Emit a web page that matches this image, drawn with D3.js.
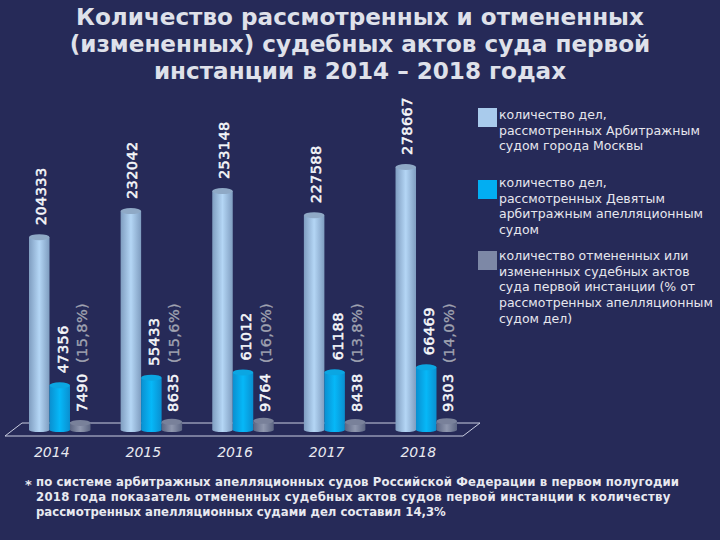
<!DOCTYPE html>
<html>
<head>
<meta charset="utf-8">
<script src="https://cdn.jsdelivr.net/npm/d3@7"></script>
<style>
html, body { margin: 0; padding: 0; background: #262a58; }
svg { display: block; font-family: "DejaVu Sans", sans-serif; }
</style>
</head>
<body>
<script>
var years = ['2014', '2015', '2016', '2017', '2018'],
    moscowCases = [204333, 232042, 253148, 227588, 278667],
    appealCases = [47356, 55433, 61012, 61188, 66469],
    changedActs = [7490, 8635, 9764, 8438, 9303],
    changedShare = ['(15,8%)', '(15,6%)', '(16,0%)', '(13,8%)', '(14,0%)'],
    titleLines = [
        'Количество рассмотренных и отмененных',
        '(измененных) судебных актов суда первой',
        'инстанции в 2014 – 2018 годах'
    ],
    legendLines = [
        ['количество дел,', 'рассмотренных Арбитражным', 'судом города Москвы'],
        ['количество дел,', 'рассмотренных Девятым', 'арбитражным апелляционным', 'судом'],
        ['количество отмененных или', 'измененных судебных актов', 'суда первой инстанции (% от', 'рассмотренных апелляционным', 'судом дел)']
    ],
    noteLines = [
        'по системе арбитражных апелляционных судов Российской Федерации в первом полугодии',
        '2018 года показатель отмененных судебных актов судов первой инстанции к количеству',
        'рассмотренных апелляционных судами дел составил 14,3%'
    ];

(function () {
    var width = 720,
        height = 540,
        base = 430,
        series = [
            { name: 'moscow', values: moscowCases, dark: '#7f9dc0', light: '#b4d6f5', top: '#8fa9c6', swatch: '#a9cbec', nudge: 1.5 },
            { name: 'appeal', values: appealCases, dark: '#0a8fd0', light: '#06b8f8', top: '#0ba6e2', swatch: '#02aef2', nudge: 3 },
            { name: 'changed', values: changedActs, dark: '#5c6582', light: '#8f97ae', top: '#79819a', swatch: '#7d88a6', nudge: 1.5 }
        ],
        svg, defs, x, inner, y, groups;

    svg = d3.select('body').append('svg').attr('width', width).attr('height', height);
    defs = svg.append('defs');

    series.forEach(function (s) {
        var grad = defs.append('linearGradient').attr('id', 'grad-' + s.name);
        grad.append('stop').attr('offset', '0%').attr('stop-color', s.dark);
        grad.append('stop').attr('offset', '50%').attr('stop-color', s.light);
        grad.append('stop').attr('offset', '100%').attr('stop-color', s.dark);
    });

    x = d3.scaleBand().domain(years).range([29, 457]).paddingInner(0.329).paddingOuter(0);
    inner = d3.scaleBand().domain(d3.range(series.length)).range([0, x.bandwidth()]);
    y = d3.scaleLinear().domain([0, 278667]).range([base, 167]);

    // title
    svg.append('g').selectAll('text').data(titleLines).enter().append('text')
        .attr('x', 360)
        .attr('y', function (d, i) { return 25 + i * 27; })
        .attr('text-anchor', 'middle')
        .attr('font-size', 23.1)
        .attr('font-weight', 'bold')
        .attr('fill', '#dfe1ea')
        .text(function (d) { return d; });

    // floor
    svg.append('path')
        .attr('d', d3.line()([[22, 423], [480, 423], [463, 436], [5, 436]]) + 'Z')
        .attr('fill', 'none')
        .attr('stroke', '#c9cde0')
        .attr('stroke-width', 1);

    groups = svg.append('g').selectAll('g').data(series).enter().append('g');

    // cylinders
    groups.each(function (s, si) {
        var g = d3.select(this),
            w = inner.bandwidth(),
            ry = 3,
            cx = function (d, i) { return x(years[i]) + inner(si) + w / 2; };

        g.selectAll('path').data(s.values).enter().append('path')
            .attr('d', function (d, i) {
                var l = cx(d, i) - w / 2, r = l + w, t = y(d);
                return 'M' + l + ',' + t + 'L' + l + ',' + base
                    + 'A' + (w / 2) + ',' + 2 + ' 0 0 0 ' + r + ',' + base
                    + 'L' + r + ',' + t + 'Z';
            })
            .attr('fill', 'url(#grad-' + s.name + ')');

        g.selectAll('ellipse').data(s.values).enter().append('ellipse')
            .attr('cx', cx)
            .attr('cy', function (d) { return y(d); })
            .attr('rx', w / 2)
            .attr('ry', ry)
            .attr('fill', s.top);
    });

    // value labels, rotated. The small bars' labels all start on one line
    groups.each(function (s, si) {
        d3.select(this).selectAll('text').data(s.values).enter().append('text')
            .attr('transform', function (d, i) {
                var px = x(years[i]) + inner(si) + inner.bandwidth() / 2 + s.nudge,
                    py = si === 2 ? y(0) - 18 : y(d) - 12;
                return 'translate(' + px + ',' + py + ') rotate(-90)';
            })
            .attr('dy', '.35em')
            .attr('font-size', 14.5)
            .attr('letter-spacing', 0.4)
            .attr('fill', '#f6f7fa')
            .attr('stroke', '#f6f7fa')
            .attr('stroke-width', 0.5)
            .text(function (d) { return d; });
    });

    // share in brackets, above the last bar's number
    svg.append('g').selectAll('text').data(changedShare).enter().append('text')
        .attr('transform', function (d, i) {
            var px = x(years[i]) + inner(2) + inner.bandwidth() / 2 + 2;
            return 'translate(' + px + ',' + (y(0) - 67) + ') rotate(-90)';
        })
        .attr('dy', '.35em')
        .attr('font-size', 14.5)
        .attr('letter-spacing', 0.4)
        .attr('fill', '#a0a3b1')
        .attr('stroke', '#a0a3b1')
        .attr('stroke-width', 0.3)
        .text(function (d) { return d; });

    // years
    svg.append('g')
        .attr('transform', 'translate(-8,' + 447 + ')')
        .call(d3.axisBottom(x).tickSize(0).tickPadding(0))
        .call(function (g) {
            g.select('.domain').remove();
            g.selectAll('text')
                .attr('font-family', '"DejaVu Sans", sans-serif')
                .attr('font-size', 14)
                .attr('font-style', 'italic')
                .attr('fill', '#e8e9f0');
        });

    // legend
    var swatchTop = [108, 180, 251],
        textTop = [119, 187, 260],
        legend = svg.append('g').selectAll('g').data(series).enter().append('g');

    legend.append('rect')
        .attr('x', 478)
        .attr('y', function (d, i) { return swatchTop[i]; })
        .attr('width', 19)
        .attr('height', 19)
        .attr('fill', function (d) { return d.swatch; });

    legend.each(function (s, i) {
        d3.select(this).selectAll('text').data(legendLines[i]).enter().append('text')
            .attr('x', 499)
            .attr('y', function (d, j) { return textTop[i] + j * 15.7; })
            .attr('font-size', 12.5)
            .attr('fill', '#e6e7ee')
            .text(function (d) { return d; });
    });

    // footnote
    var noteTracking = [0.13, 0.27, 0];

    svg.append('text')
        .attr('x', 25)
        .attr('y', 489)
        .attr('font-size', 13)
        .attr('font-weight', 'bold')
        .attr('fill', '#e8e9f0')
        .text('*');

    svg.append('g').selectAll('text').data(noteLines).enter().append('text')
        .attr('x', 36)
        .attr('y', function (d, i) { return 486 + i * 15; })
        .attr('font-size', 11.7)
        .attr('font-weight', 'bold')
        .attr('letter-spacing', function (d, i) { return noteTracking[i]; })
        .attr('fill', '#e8e9f0')
        .text(function (d) { return d; });
}());
</script>
</body>
</html>
